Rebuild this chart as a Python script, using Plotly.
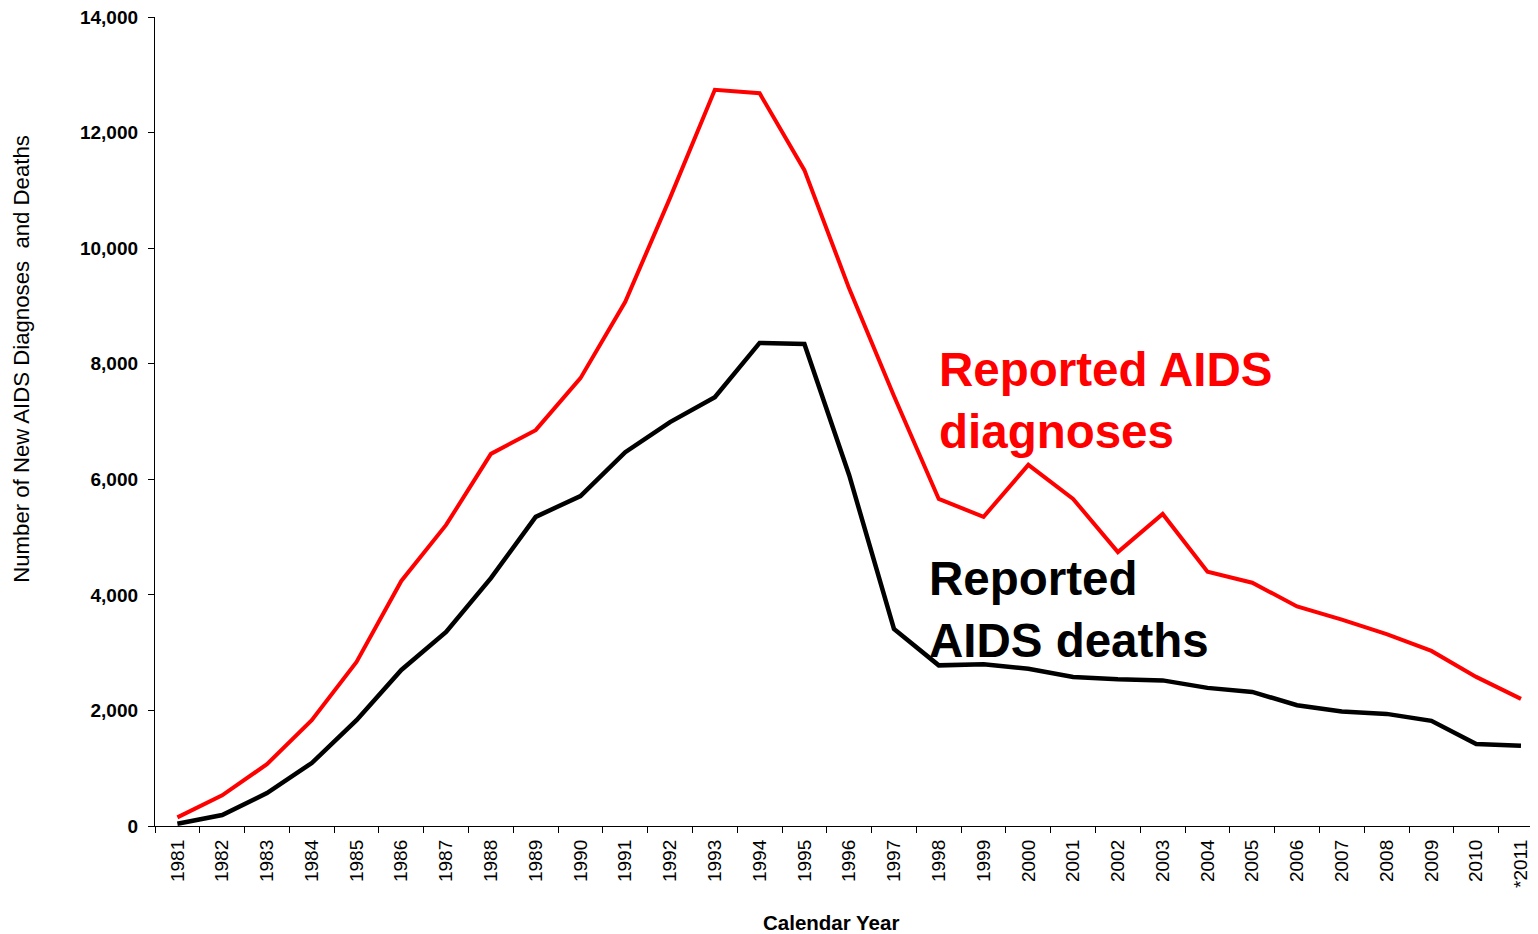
import plotly.graph_objects as go

# Data
years = [str(y) for y in range(1981, 2011)] + ["*2011"]

diagnoses = [150, 530, 1070, 1830, 2840, 4240, 5210, 6440, 6850, 7750,
             9070, 10870, 12740, 12680, 11350, 9300, 7440, 5660, 5350, 6250,
             5660, 4740, 5400, 4400, 4210, 3800, 3570, 3320, 3030, 2580,
             2200]

deaths = [40, 190, 570, 1090, 1830, 2700, 3360, 4290, 5350, 5710,
          6470, 6990, 7420, 8360, 8340, 6070, 3410, 2780, 2800, 2720,
          2580, 2540, 2520, 2390, 2320, 2090, 1980, 1940, 1820, 1420,
          1390]

y_ticks = [0, 2000, 4000, 6000, 8000, 10000, 12000, 14000]

FONT = "Arial, 'Liberation Sans', sans-serif"

fig = go.Figure()

fig.add_trace(go.Scatter(x=years, y=diagnoses, mode="lines",
                         line=dict(color="#ff0000", width=4),
                         name="Reported AIDS diagnoses"))
fig.add_trace(go.Scatter(x=years, y=deaths, mode="lines",
                         line=dict(color="#000000", width=4.5),
                         name="Reported AIDS deaths"))

# Line labels
fig.add_annotation(x=16.96, y=7360, xref="x", yref="y",
                   text="<b>Reported AIDS<br>diagnoses</b>",
                   showarrow=False, xanchor="left", yanchor="middle", align="left",
                   font=dict(family=FONT, size=47.5, color="#ff0000"))
fig.add_annotation(x=16.74, y=3740, xref="x", yref="y",
                   text="<b>Reported<br>AIDS deaths</b>",
                   showarrow=False, xanchor="left", yanchor="middle", align="left",
                   font=dict(family=FONT, size=47.5, color="#000000"))

# Axis titles
fig.add_annotation(x=-0.0966, y=0.578, xref="paper", yref="paper",
                   text="Number of New AIDS Diagnoses\u00a0 and Deaths",
                   textangle=-90, showarrow=False,
                   xanchor="center", yanchor="middle",
                   font=dict(family=FONT, size=22.2, color="#000000"))
fig.add_annotation(x=0.4885, y=-0.1199, xref="paper", yref="paper",
                   text="<b>Calendar Year</b>", showarrow=False,
                   xanchor="center", yanchor="middle",
                   font=dict(family=FONT, size=20.5, color="#000000"))

fig.update_xaxes(
    type="category",
    range=[-0.5, 30.38],
    tickangle=-90,
    tickson="boundaries",
    ticks="outside", ticklen=6, tickcolor="#000000",
    ticklabelstandoff=5,
    showline=True, linecolor="#000000", linewidth=1.3,
    showgrid=False, zeroline=False,
    tickfont=dict(family=FONT, size=19, color="#000000"),
)
fig.update_yaxes(
    range=[0, 14000],
    tickvals=y_ticks,
    ticktext=[f"<b>{v:,}</b>" for v in y_ticks],
    ticks="outside", ticklen=6, tickcolor="#000000",
    ticklabelstandoff=6,
    ticklabeloverflow="allow",
    showline=True, linecolor="#000000", linewidth=1.3,
    showgrid=False, zeroline=False,
    tickfont=dict(family=FONT, size=19, color="#000000"),
)

# the page body has an 8px margin, so the figure is a little smaller
fig.update_layout(
    width=1530, height=926,
    margin=dict(l=146.5, r=0, t=9, b=108),
    plot_bgcolor="white", paper_bgcolor="white",
    showlegend=False,
    font=dict(family=FONT),
)

fig.write_html("out.html")
